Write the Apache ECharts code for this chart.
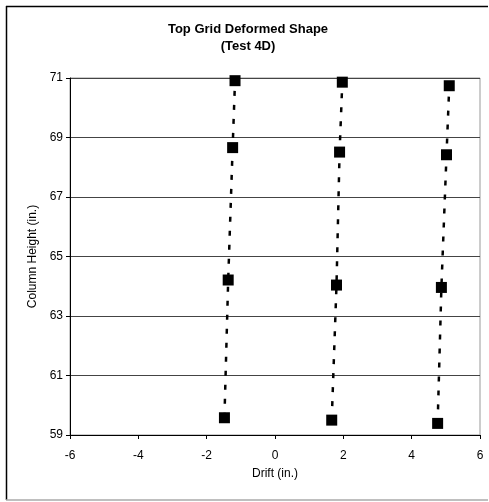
<!DOCTYPE html>
<html>
<head>
<meta charset="utf-8">
<script src="https://cdn.jsdelivr.net/npm/echarts@6/dist/echarts.min.js"></script>
<style>
html,body{margin:0;padding:0;background:#fff;}
#chart{width:489px;height:502px;}
</style>
</head>
<body>
<div id="chart"></div>
<script>
// column heights (in.) and drifts (in.)
var heights1=[59.58,64.21,68.66,70.91];
var drift1=[-1.48,-1.37,-1.24,-1.17];
var heights2=[59.50,64.04,68.51,70.86];
var drift2=[1.66,1.80,1.89,1.97];
var heights3=[59.39,63.96,68.42,70.74];
var drift3=[4.76,4.87,5.02,5.10];

function pairs(xs,ys){
    var out=[];
    for(var i=0;i<xs.length;i++){
        out.push([xs[i],ys[i]]);
    }
    return out;
}

function mkSeries(xs,ys){
    return {
        type:'line',
        data:pairs(xs,ys),
        symbol:'rect',
        symbolSize:11,
        itemStyle:{color:'#000'},
        lineStyle:{color:'#000',width:2.5,type:[5,9]},
        animation:false
    };
}

var chartDom=document.getElementById('chart');
var myChart=echarts.init(chartDom,null,{renderer:'canvas'});
var fnt='Liberation Sans, Arial, sans-serif';
var option={
    backgroundColor:'#fff',
    animation:false,
    title:{
        text:'Top Grid Deformed Shape\n(Test 4D)',
        left:243,
        textAlign:'center',
        top:16,
        textStyle:{fontFamily:fnt,fontSize:13,fontWeight:'bold',color:'#000',lineHeight:17}
    },
    grid:{left:70,right:9,top:78,bottom:67,show:true,borderColor:'#999',borderWidth:1,backgroundColor:'transparent'},
    xAxis:{
        type:'value',min:-6,max:6,interval:2,
        name:'Drift (in.)',nameLocation:'middle',nameGap:33,
        nameTextStyle:{fontFamily:fnt,fontSize:12,color:'#000'},
        axisLine:{onZero:false,lineStyle:{color:'#000',width:1}},
        axisTick:{show:true,inside:false,length:4,lineStyle:{color:'#000'}},
        axisLabel:{fontFamily:fnt,fontSize:12,color:'#000',margin:15},
        splitLine:{show:false}
    },
    yAxis:{
        type:'value',min:59,max:71,interval:2,
        name:'Column Height (in.)',nameLocation:'middle',nameGap:30,
        nameTextStyle:{fontFamily:fnt,fontSize:12,color:'#000'},
        axisLine:{onZero:false,lineStyle:{color:'#000',width:1}},
        axisTick:{show:true,inside:false,length:4,lineStyle:{color:'#000'}},
        axisLabel:{fontFamily:fnt,fontSize:12,color:'#000',margin:7},
        splitLine:{show:true,lineStyle:{color:'#444',width:1}}
    },
    graphic:[
        {type:'line',shape:{x1:6.5,y1:6,x2:6.5,y2:500},style:{stroke:'#000',lineWidth:1.5}},
        {type:'line',shape:{x1:6,y1:6.5,x2:488,y2:6.5},style:{stroke:'#000',lineWidth:1.5}},
        {type:'line',shape:{x1:6,y1:500,x2:488,y2:500},style:{stroke:'#aaa',lineWidth:1.5}}
    ],
    series:[
        mkSeries(drift1,heights1),
        mkSeries(drift2,heights2),
        mkSeries(drift3,heights3)
    ]
};
myChart.setOption(option);
</script>
</body>
</html>
